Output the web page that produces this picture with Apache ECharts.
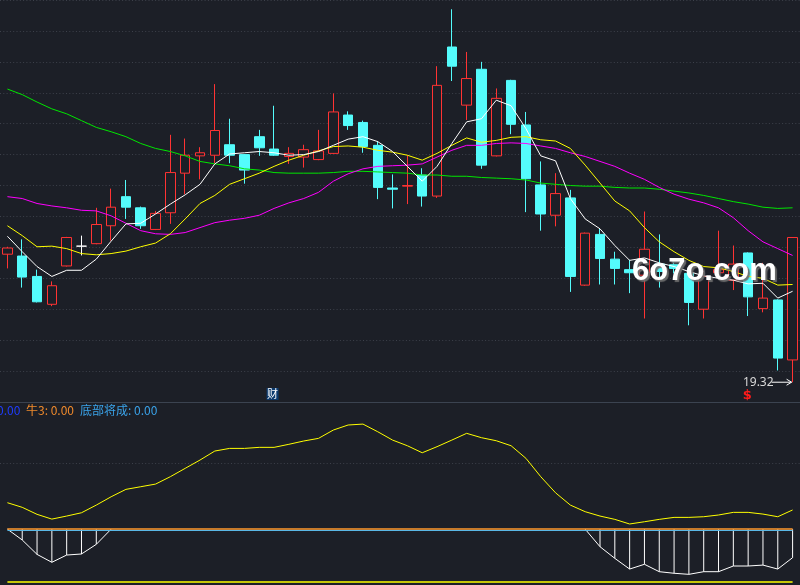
<!DOCTYPE html>
<html><head><meta charset="utf-8">
<script src="https://cdn.jsdelivr.net/npm/echarts/dist/echarts.min.js"></script>
<style>html,body{margin:0;padding:0;background:#1c1f27;}#c{width:800px;height:585px;}</style>
</head><body><div id="c"></div>
<script>
// ---- data ----
const categories = ['1','2','3','4','5','6','7','8','9','10','11','12','13','14','15','16','17','18','19','20','21','22','23','24','25','26','27','28','29','30','31','32','33','34','35','36','37','38','39','40','41','42','43','44','45','46','47','48','49','50','51','52','53','54'];
const openP  = [21.39,21.36,21.03,20.58,21.20,21.52,21.56,21.85,22.32,22.14,21.79,22.06,22.70,22.98,22.99,23.16,23.00,23.29,23.09,22.97,22.96,22.92,23.02,23.64,23.52,23.15,22.46,22.49,22.67,22.33,24.74,23.80,24.38,22.98,24.20,23.48,22.51,22.02,22.30,20.89,21.71,21.31,21.14,21.05,21.23,21.22,21.08,20.50,21.09,20.97,21.41,20.51,20.65,19.68];
const closeP = [21.49,21.02,20.62,20.88,21.66,21.52,21.87,22.15,22.15,21.85,22.05,22.71,22.99,23.03,23.39,22.99,22.75,23.11,22.99,23.02,23.08,23.06,23.69,23.47,23.13,22.47,22.44,22.50,22.33,24.12,24.43,24.23,22.83,23.91,23.49,22.61,22.04,22.37,21.03,21.73,21.32,21.16,21.09,21.47,21.11,21.16,20.61,21.03,21.14,21.23,20.70,20.68,19.71,21.66];
const lowP   = [21.16,20.85,20.61,20.55,21.19,21.37,21.55,21.61,21.96,21.80,21.78,21.88,22.36,22.60,22.86,22.86,22.53,22.98,22.98,22.85,22.79,22.91,23.01,23.40,23.03,22.28,22.13,22.20,22.16,22.30,24.19,23.56,22.77,22.97,23.33,22.07,21.77,21.84,20.78,20.88,20.90,20.90,20.76,20.35,20.85,21.08,20.24,20.35,21.01,20.81,20.39,20.45,19.51,19.32];
const highP  = [21.51,21.63,21.14,20.95,21.67,21.69,22.14,22.45,22.59,22.16,22.09,23.32,23.26,23.12,24.14,23.58,23.01,23.40,23.79,23.12,23.16,23.40,23.99,23.70,23.55,23.22,22.68,22.99,22.78,24.43,25.35,24.66,24.50,24.07,24.21,23.69,22.89,22.70,22.43,21.74,21.81,21.43,21.30,22.08,21.71,21.28,21.10,21.14,21.77,21.53,21.42,21.25,20.66,21.66];
const ma5  = [21.68,21.43,21.19,21.03,21.13,21.13,21.31,21.60,21.88,21.89,22.04,22.20,22.35,22.52,22.85,23.01,23.03,23.05,23.03,22.99,23.00,23.05,23.15,23.25,23.29,23.21,23.05,22.81,22.57,22.81,23.18,23.53,23.58,23.88,23.79,23.42,22.98,22.90,22.29,21.96,21.80,21.53,21.29,21.33,21.25,21.19,21.11,21.04,21.00,20.97,20.91,20.92,20.68,20.79];
const ma10 = [21.85,21.69,21.51,21.52,21.48,21.40,21.38,21.40,21.44,21.51,21.57,21.72,21.96,22.21,22.34,22.52,22.61,22.70,22.81,22.91,22.99,23.06,23.13,23.14,23.12,23.07,23.04,22.99,22.91,23.02,23.15,23.27,23.20,23.23,23.28,23.29,23.24,23.22,23.10,22.83,22.54,22.25,22.09,21.82,21.59,21.43,21.29,21.19,21.17,21.11,21.03,21.00,20.89,20.90];
const ma20 = [22.32,22.29,22.21,22.17,22.14,22.10,22.09,22.01,21.89,21.77,21.72,21.71,21.74,21.82,21.90,21.94,21.97,22.02,22.13,22.22,22.29,22.39,22.57,22.69,22.77,22.81,22.82,22.83,22.85,22.96,23.07,23.15,23.15,23.18,23.19,23.18,23.14,23.10,23.03,22.97,22.89,22.81,22.70,22.60,22.47,22.36,22.28,22.22,22.14,21.98,21.77,21.59,21.48,21.37];
const ma60 = [24.06,23.97,23.85,23.74,23.66,23.55,23.44,23.37,23.29,23.18,23.10,23.05,22.98,22.89,22.85,22.82,22.77,22.75,22.71,22.70,22.70,22.70,22.71,22.73,22.73,22.72,22.71,22.70,22.67,22.67,22.65,22.65,22.63,22.62,22.61,22.59,22.54,22.52,22.50,22.49,22.49,22.47,22.46,22.46,22.44,22.41,22.38,22.34,22.29,22.24,22.20,22.15,22.13,22.14];
const osc  = [20.0,16.5,11.2,7.6,9.9,12.4,18.2,24.5,30.1,32.1,34.1,39.7,46.0,52.3,59.1,61.1,61.1,61.9,61.9,64.2,66.7,68.7,75.0,78.8,79.5,73.7,67.4,63.1,57.8,62.4,67.4,72.5,69.2,66.9,63.1,53.6,39.7,27.5,18.2,13.2,9.9,7.4,3.9,5.6,7.4,8.9,8.9,9.4,10.7,12.7,12.7,11.4,9.4,14.5];
const bottomBars = [0,-8.2,-19.1,-25.1,-19.6,-18.8,-11.5,0,
  null,null,null,null,null,null,null,null,null,null,null,null,null,null,null,null,null,null,null,null,null,null,null,null,null,null,null,null,null,null,null,
  0,-13.3,-22.1,-30.2,-26.6,-32.2,-33.4,-34.2,-32.2,-32.2,-27.9,-27.9,-27.2,-30.2,-21.6];
const priceTicks = {min: 19.0, max: 25.5, step: 0.5};
const oscRange = {min: -40, max: 100, mid: 50, zero: 0, floor: -40};
const lowestPrice = 19.32, lowestIndex = 53;
const caiIndex = 18, dollarIndex = 50;
const legendTexts = [
  {text: '0.00', color: '#1f3dff'},
  {text: '牛3: 0.00', color: '#f08a2c'},
  {text: '底部将成: 0.00', color: '#3aa3ea'}
];

// ---- styles ----
const BG = '#1c1f27', UP = '#ff3333', DOWN = '#54fcfc';
const candleData = openP.map((o, i) => {
  const item = {value: [o, closeP[i], lowP[i], highP[i]]};
  if (o === closeP[i]) item.itemStyle = {color: '#ffffff', color0: '#ffffff', borderColor: '#ffffff', borderColor0: '#ffffff'};
  return item;
});

const chart = echarts.init(document.getElementById('c'), null, {renderer: 'canvas'});
const lineS = (name, data, color) => ({
  name, type: 'line', data, xAxisIndex: 0, yAxisIndex: 0, symbol: 'none', z: 5,
  lineStyle: {color, width: 1}, silent: true, animation: false
});

const option = {
  backgroundColor: BG,
  animation: false,
  grid: [
    {left: -2.4, right: -1.6, top: -5.33, height: 407.33},
    {left: -2.4, right: -1.6, top: 397, height: 185}
  ],
  xAxis: [
    {type: 'category', data: categories, gridIndex: 0, boundaryGap: true,
     axisLine: {show: true, lineStyle: {color: '#3b4350', width: 1}}, axisTick: {show: false}, axisLabel: {show: false}, splitLine: {show: false}},
    {type: 'category', data: categories, gridIndex: 1, boundaryGap: true,
     axisLine: {show: false}, axisTick: {show: false}, axisLabel: {show: false}, splitLine: {show: false}}
  ],
  yAxis: [
    {type: 'value', gridIndex: 0, min: priceTicks.min, max: priceTicks.max, interval: priceTicks.step,
     axisLine: {show: false}, axisTick: {show: false}, axisLabel: {show: false},
     splitLine: {show: true, lineStyle: {color: '#3d414b', width: 1, type: [1, 2.3]}}},
    {type: 'value', gridIndex: 1, min: oscRange.min, max: oscRange.max,
     axisLine: {show: false}, axisTick: {show: false}, axisLabel: {show: false}, splitLine: {show: false}}
  ],
  series: [
    {type: 'candlestick', data: candleData, xAxisIndex: 0, yAxisIndex: 0, barWidth: 10, z: 3, silent: true,
     itemStyle: {color: BG, color0: DOWN, borderColor: UP, borderColor0: DOWN, borderWidth: 1}},
    lineS('MA60', ma60, '#00e600'),
    lineS('MA20', ma20, '#ff00ff'),
    lineS('MA10', ma10, '#ffff00'),
    lineS('MA5', ma5, '#ffffff'),
    {type: 'bar', data: bottomBars, xAxisIndex: 1, yAxisIndex: 1, barWidth: 1, silent: true, z: 3,
     itemStyle: {color: '#ffffff'}},
    {type: 'line', data: bottomBars, xAxisIndex: 1, yAxisIndex: 1, symbol: 'none', connectNulls: false, silent: true, z: 4,
     lineStyle: {color: '#ffffff', width: 1}},
    {type: 'line', data: osc, xAxisIndex: 1, yAxisIndex: 1, symbol: 'none', silent: true, z: 5,
     lineStyle: {color: '#ffff00', width: 1},
     markLine: {silent: true, symbol: 'none', label: {show: false}, animation: false,
       data: [
         {yAxis: oscRange.mid, lineStyle: {color: '#3d414b', width: 1, type: [1, 2.3]}},
         [{coord: [0, oscRange.zero + 0.6], lineStyle: {color: '#ff9a2e', width: 1.5, type: 'solid'}}, {coord: [lowestIndex, oscRange.zero + 0.6]}],
         [{coord: [0, oscRange.zero - 0.5], lineStyle: {color: '#5ab8e6', width: 1, type: 'solid'}}, {coord: [lowestIndex, oscRange.zero - 0.5]}],
         [{coord: [0, oscRange.floor + 0.3], lineStyle: {color: '#ffff00', width: 1.5, type: 'solid'}}, {coord: [lowestIndex, oscRange.floor + 0.3]}]
       ]}}
  ]
};
chart.setOption(option);

// annotations positioned through the chart's own scales
const pLow = chart.convertToPixel({xAxisIndex: 0, yAxisIndex: 0}, [lowestIndex, lowestPrice]);
const pCai = chart.convertToPixel({xAxisIndex: 0, yAxisIndex: 0}, [caiIndex, 19.13]);
const pDol = chart.convertToPixel({xAxisIndex: 0, yAxisIndex: 0}, [dollarIndex, 19.10]);
const legendX = [-3, 26, 80];
const graphics = [
  {type: 'text', z: 50, left: 632, top: 256, style: {text: '6o7o.com', fill: '#ffffff',
    font: 'bold 31px "Liberation Sans", Arial, sans-serif',
    textShadowColor: 'rgba(110,110,110,0.95)', textShadowOffsetX: 2, textShadowOffsetY: 2, textShadowBlur: 1}},
  {type: 'text', z: 20, x: pLow[0] - 19, y: pLow[1], style: {text: '19.32', fill: '#d9d9d9', align: 'right', verticalAlign: 'middle',
    font: '12px "Noto Sans", sans-serif'}},
  {type: 'line', z: 20, shape: {x1: pLow[0] - 21, y1: pLow[1], x2: pLow[0] - 1, y2: pLow[1]}, style: {stroke: '#ffffff', lineWidth: 1}},
  {type: 'polyline', z: 20, shape: {points: [[pLow[0] - 6, pLow[1] - 3], [pLow[0] - 1, pLow[1]], [pLow[0] - 6, pLow[1] + 3]]}, style: {stroke: '#ffffff', lineWidth: 1, fill: null}},
  {type: 'rect', z: 20, shape: {x: pCai[0] - 7.5, y: pCai[1] - 6, width: 12, height: 12}, style: {fill: '#0b3a6e'}},
  {type: 'text', z: 21, x: pCai[0] - 1.5, y: pCai[1], style: {text: '财', fill: '#ffffff', align: 'center', verticalAlign: 'middle',
    font: '11px "Noto Sans CJK SC", sans-serif'}},
  {type: 'text', z: 21, x: pDol[0] - 1, y: pDol[1], style: {text: '$', fill: '#ff1a1a', align: 'center', verticalAlign: 'middle',
    font: 'bold 13px "DejaVu Sans", sans-serif'}}
];
legendTexts.forEach((t, k) => graphics.push({type: 'text', z: 20, x: legendX[k], y: 410.5,
  style: {text: t.text, fill: t.color, verticalAlign: 'middle', font: '12px "Noto Sans CJK SC", sans-serif'}}));
chart.setOption({graphic: graphics});
</script>
</body></html>
